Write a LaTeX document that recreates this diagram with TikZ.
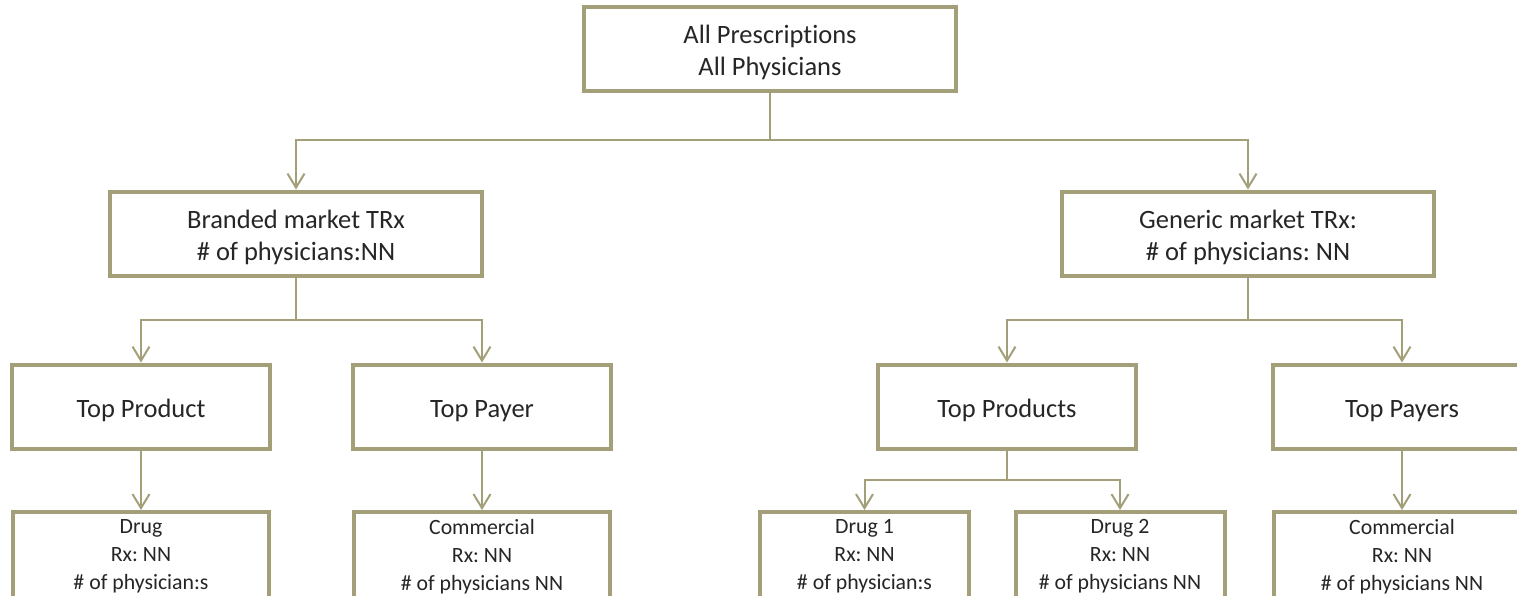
\documentclass[tikz,border=0pt]{standalone}
\usepackage{fontspec}
\setmainfont{Carlito}[Ligatures={NoCommon}]
\usetikzlibrary{arrows.meta}
\definecolor{olivec}{RGB}{163,159,120}
\definecolor{txtc}{RGB}{38,38,38}
\newcommand\mylift{\rule{0pt}{26pt}}
\frenchspacing
\begin{document}
\frenchspacing
\begin{tikzpicture}[x=1pt,y=-1pt,
 box/.style={draw=olivec, line width=4pt, fill=white, inner sep=0pt, text=txtc},
 big/.style={box, minimum width=372pt, minimum height=84pt, align=center, font=\fontsize{26.5}{31.5}\selectfont\frenchspacing},
 mid/.style={box, minimum width=258pt, minimum height=84pt, font=\fontsize{26.5}{31.5}\selectfont},
 leaf/.style={box, minimum height=100pt, anchor=north},
 leaftext/.style={anchor=north, inner sep=0pt, text=txtc, align=center, font=\fontsize{21.8}{28}\selectfont\frenchspacing},
 conn/.style={draw=olivec, line width=2pt},
 arr/.style={conn, -{Straight Barb[length=14pt,width=17pt]}}
]
\useasboundingbox (0,0) rectangle (1517,595);
\clip (0,0) rectangle (1517,595);

\node[big] (top) at (770,48.5) {\mylift All Prescriptions\\All Physicians};
\node[big] (br) at (296,233.5) {\mylift Branded market TRx\\\# of physicians:NN};
\node[big] (gen) at (1248,233.5) {\mylift Generic market TRx:\\\# of physicians: NN};

\node[mid] (tprod) at (141,406.5) {\mylift Top Product};
\node[mid] (tpay) at (482,406.5) {\mylift Top Payer};
\node[mid] (tps) at (1007,406.5) {\mylift Top Products};
\node[mid] (tpys) at (1402,406.5) {\mylift Top Payers};

\node[leaf, minimum width=256pt] (drug) at (141,510) {};
\node[leaf, minimum width=256pt] (com1) at (482,510) {};
\node[leaf, minimum width=209pt] (d1) at (864.5,510) {};
\node[leaf, minimum width=209pt] (d2) at (1120,510) {};
\node[leaf, minimum width=256pt] (com2) at (1402,510) {};

\node[leaftext] (drugt) at (141,519) {Drug\\Rx: NN\\\# of physician:s};
\node[leaftext] (com1t) at (482,519) {Commercial\\Rx: NN\\\# of physicians NN};
\node[leaftext] (d1t) at (864.5,519) {Drug 1\\Rx: NN\\\# of physician:s};
\node[leaftext] (d2t) at (1120,519) {Drug 2\\Rx: NN\\\# of physicians NN};
\node[leaftext] (com2t) at (1402,519) {Commercial\\Rx: NN\\\# of physicians NN};

\coordinate (j1) at (770,140);
\coordinate (j2) at (296,320);
\coordinate (j3) at (1248,320);
\coordinate (j4) at (1007,480);

\draw[conn] (top.south) -- (j1);
\draw[arr] (j1) -| (br.north);
\draw[arr] (j1) -| (gen.north);

\draw[conn] (br.south) -- (j2);
\draw[arr] (j2) -| (tprod.north);
\draw[arr] (j2) -| (tpay.north);

\draw[conn] (gen.south) -- (j3);
\draw[arr] (j3) -| (tps.north);
\draw[arr] (j3) -| (tpys.north);

\draw[conn] (tps.south) -- (j4);
\draw[arr] (j4) -| (d1.north);
\draw[arr] (j4) -| (d2.north);

\draw[arr] (tprod.south) -- (drug.north);
\draw[arr] (tpay.south) -- (com1.north);
\draw[arr] (tpys.south) -- (com2.north);
\end{tikzpicture}
\end{document}
